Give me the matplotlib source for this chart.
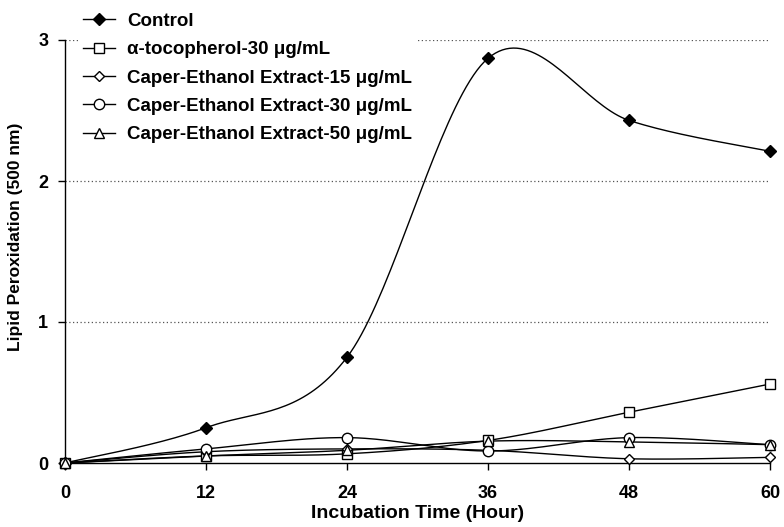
import numpy as np
import matplotlib
matplotlib.use("Agg")
import matplotlib.pyplot as plt

hours = [0, 12, 24, 36, 48, 60]
control = [0.0, 0.25, 0.75, 2.87, 2.43, 2.21]
tocopherol = [0.0, 0.05, 0.065, 0.16, 0.36, 0.56]
caper15 = [0.0, 0.08, 0.10, 0.09, 0.03, 0.04]
caper30 = [0.0, 0.10, 0.18, 0.085, 0.18, 0.13]
caper50 = [0.0, 0.05, 0.09, 0.155, 0.15, 0.13]
labels = ["Control", "\u03b1-tocopherol-30 \u03bcg/mL",
          "Caper-Ethanol Extract-15 \u03bcg/mL",
          "Caper-Ethanol Extract-30 \u03bcg/mL",
          "Caper-Ethanol Extract-50 \u03bcg/mL"]
xticks = [0, 12, 24, 36, 48, 60]
yticks = [0, 1, 2, 3]

plt.rcParams['font.family'] = ['Liberation Sans', 'DejaVu Sans']
plt.rcParams['font.weight'] = 'bold'


def smooth(x, y, n=40):
    """Excel-like Catmull-Rom Bezier smoothing for drawing the line."""
    P = np.column_stack([x, y]).astype(float)
    m = len(P)
    out = [P[0]]
    t = np.linspace(0, 1, n)[1:, None]
    for i in range(m - 1):
        p0 = P[i]
        p3 = P[i + 1]
        pm = P[i - 1] if i > 0 else P[i]
        pp = P[i + 2] if i + 2 < m else P[i + 1]
        c1 = p0 + (p3 - pm) / 6.0
        c2 = p3 - (pp - p0) / 6.0
        seg = ((1 - t) ** 3) * p0 + 3 * ((1 - t) ** 2) * t * c1 + 3 * (1 - t) * t ** 2 * c2 + t ** 3 * p3
        out.extend(seg)
    out = np.array(out)
    return out[:, 0], out[:, 1]


fig = plt.figure(figsize=(7.84, 5.27), dpi=100)
ax = fig.add_axes([65 / 784, 1 - 463 / 527, 705 / 784, 423 / 527])

series = [
    (control, dict(marker='D', markersize=6, markerfacecolor='black')),
    (tocopherol, dict(marker='s', markersize=7, markerfacecolor='white')),
    (caper15, dict(marker='D', markersize=5, markerfacecolor='white')),
    (caper30, dict(marker='o', markersize=7.5, markerfacecolor='white')),
    (caper50, dict(marker='^', markersize=7, markerfacecolor='white')),
]

handles = []
for (vals, st), lab in zip(series, labels):
    sx, sy = smooth(hours, vals)
    ax.plot(sx, sy, color='black', lw=1.0, zorder=3, clip_on=False)
    ax.plot(hours, vals, linestyle='none', color='black',
            markeredgecolor='black', markeredgewidth=1.0, zorder=4,
            clip_on=False, **st)
    h, = ax.plot([], [], color='black', lw=1.0, markeredgecolor='black',
                 markeredgewidth=1.0, label=lab, **st)
    handles.append(h)

ax.set_xlim(0, 60)
ax.set_ylim(0, 3)
ax.set_xticks(xticks)
ax.set_yticks(yticks)
ax.set_xticklabels([str(v) for v in xticks], fontsize=13, fontweight='bold')
ax.set_yticklabels([str(v) for v in yticks], fontsize=13, fontweight='bold')
ax.tick_params(axis='x', direction='out', length=5, width=1, pad=11)
ax.tick_params(axis='y', direction='out', length=5, width=1, pad=7)

for v in yticks[1:]:
    ax.axhline(v, color='#555555', lw=0.9, linestyle=(0, (1, 2)), zorder=1)

for s in ['top', 'right']:
    ax.spines[s].set_visible(False)
for s in ['left', 'bottom']:
    ax.spines[s].set_linewidth(1.0)

ax.set_xlabel("Incubation Time (Hour)", fontsize=14, fontweight='bold', labelpad=2)
ax.set_ylabel("Lipid Peroxidation (500 nm)", fontsize=12.5, fontweight='bold')
ax.yaxis.set_label_coords(-0.06, 0.534)

leg = fig.legend(handles=handles, loc='upper left',
                 bbox_to_anchor=(79 / 784, 1 - 9 / 527),
                 frameon=True, fancybox=False, edgecolor='none',
                 facecolor='white', framealpha=1,
                 prop=dict(size=13.5, weight='bold'),
                 handlelength=1.7, handletextpad=0.65,
                 labelspacing=0.6, borderpad=0.2, borderaxespad=0)
leg.set_zorder(5)

fig.savefig("out.png", dpi=100)
